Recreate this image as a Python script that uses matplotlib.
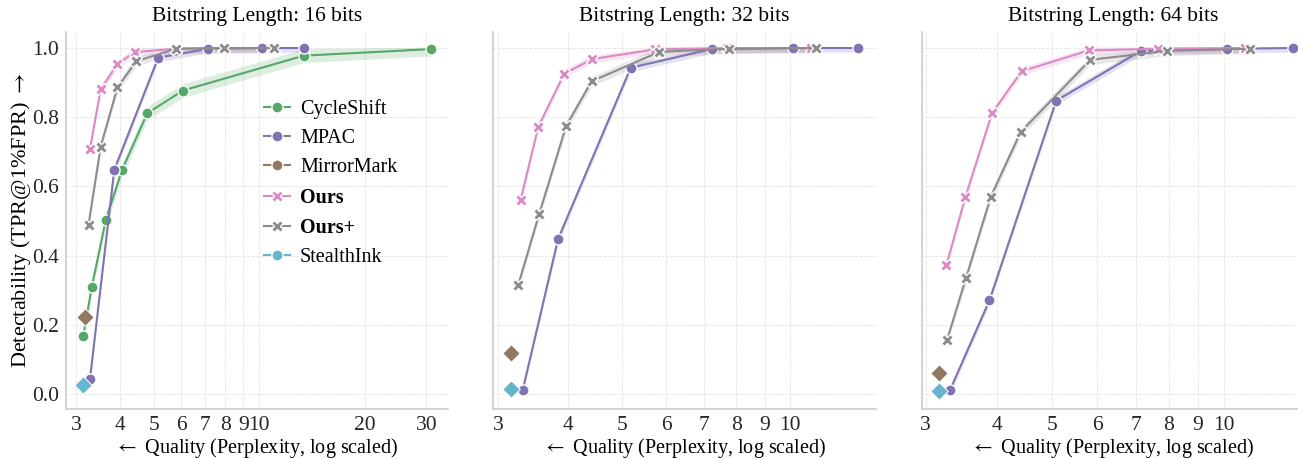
import numpy as np
import matplotlib
matplotlib.use("Agg")
import matplotlib.pyplot as plt
from matplotlib.lines import Line2D
from matplotlib.ticker import FixedLocator, NullFormatter, FixedFormatter

plt.rcParams['font.family'] = ['Liberation Serif', 'DejaVu Serif']
plt.rcParams['mathtext.fontset'] = 'stix'

titles = ['Bitstring Length: 16 bits', 'Bitstring Length: 32 bits', 'Bitstring Length: 64 bits']

# (perplexity, TPR) per panel
cycleshift_x = [3.15, 3.33, 3.65, 4.06, 4.79, 6.05, 13.4, 31.0]
cycleshift_y = [0.169, 0.31, 0.503, 0.647, 0.811, 0.877, 0.978, 0.997]

mpac_x = [
    [3.29, 3.86, 5.15, 7.16, 10.2, 13.4],
    [3.32, 3.84, 5.18, 7.23, 10.1, 13.2],
    [3.31, 3.88, 5.08, 7.15, 10.1, 13.2],
]
mpac_y = [
    [0.043, 0.648, 0.972, 0.998, 1.0, 1.0],
    [0.012, 0.448, 0.943, 0.997, 1.0, 1.0],
    [0.012, 0.271, 0.848, 0.992, 0.998, 1.0],
]

ours_x = [
    [3.29, 3.53, 3.94, 4.41, 5.78, 7.9, 10.9],
    [3.29, 3.54, 3.94, 4.42, 5.72, 7.7, 10.9],
    [3.26, 3.52, 3.92, 4.42, 5.79, 7.66, 10.9],
]
ours_y = [
    [0.708, 0.881, 0.954, 0.988, 0.998, 1.0, 1.0],
    [0.56, 0.773, 0.926, 0.968, 0.996, 1.0, 1.0],
    [0.372, 0.569, 0.812, 0.933, 0.993, 0.998, 1.0],
]

oursplus_x = [
    [3.26, 3.53, 3.94, 4.46, 5.79, 7.95, 11.0],
    [3.26, 3.55, 3.97, 4.41, 5.83, 7.78, 11.1],
    [3.27, 3.53, 3.90, 4.40, 5.83, 7.94, 11.1],
]
oursplus_y = [
    [0.49, 0.715, 0.886, 0.962, 0.998, 1.0, 1.0],
    [0.316, 0.519, 0.775, 0.904, 0.989, 0.998, 1.0],
    [0.157, 0.336, 0.57, 0.757, 0.966, 0.992, 0.998],
]

mirrormark_x = [3.18, 3.16, 3.17]
mirrormark_y = [0.223, 0.119, 0.06]
stealthink_x = [3.15, 3.16, 3.16]
stealthink_y = [0.026, 0.015, 0.009]

xlims = [(2.81, 34.6), (2.94, 14.2), (2.95, 13.8)]
xticks = [[3, 4, 5, 6, 7, 8, 9, 10, 20, 30], [3, 4, 5, 6, 7, 8, 9, 10], [3, 4, 5, 6, 7, 8, 9, 10]]

c_green = '#55A868'
c_purple = '#8172B3'
c_brown = '#937860'
c_pink = '#DA8BC3'
c_gray = '#8C8C8C'
c_cyan = '#64B5CD'

fig = plt.figure(figsize=(12.98, 4.59), dpi=100)
lefts = [0.0508, 0.380, 0.710]
axes = []
for i in range(3):
    ax = fig.add_axes([lefts[i], 0.109, 0.2945, 0.821],
                      sharey=axes[0] if axes else None)
    axes.append(ax)


def draw_line(ax, x, y, color, marker, ms, band=0.012, mew=1.0):
    x = np.array(x)
    y = np.array(y)
    ax.fill_between(x, y - band, np.minimum(y + band, 1.003), color=color, alpha=0.2, lw=0)
    ax.plot(x, y, color=color, marker=marker, ms=ms, lw=1.5,
            mec='white', mew=mew, zorder=3)


for i, ax in enumerate(axes):
    ax.set_xscale('log')
    if i == 0:
        draw_line(ax, cycleshift_x, cycleshift_y, c_green, 'o', 8, band=0.02)
    draw_line(ax, mpac_x[i], mpac_y[i], c_purple, 'o', 8, band=0.012)
    draw_line(ax, ours_x[i], ours_y[i], c_pink, 'X', 8, band=0.012)
    draw_line(ax, oursplus_x[i], oursplus_y[i], c_gray, 'X', 8, band=0.014)
    ax.scatter([mirrormark_x[i]], [mirrormark_y[i]], marker='D', s=80,
               color=c_brown, edgecolor='white', lw=0.8, zorder=4)
    ax.scatter([stealthink_x[i]], [stealthink_y[i]], marker='D', s=80,
               color=c_cyan, edgecolor='white', lw=0.8, zorder=4)

    ax.set_xlim(*xlims[i])
    ax.xaxis.set_major_locator(FixedLocator(xticks[i]))
    ax.xaxis.set_major_formatter(FixedFormatter([str(t) for t in xticks[i]]))
    ax.xaxis.set_minor_formatter(NullFormatter())
    ax.xaxis.set_minor_locator(FixedLocator([]))
    ax.set_ylim(-0.043, 1.046)
    ax.set_yticks([0.0, 0.2, 0.4, 0.6, 0.8, 1.0])
    ax.grid(True, which='major', ls='--', lw=0.6, color='#e3e3e3')
    ax.set_axisbelow(True)
    for s in ['top', 'right']:
        ax.spines[s].set_visible(False)
    for s in ['left', 'bottom']:
        ax.spines[s].set_color('#cccccc')
        ax.spines[s].set_linewidth(1.2)
    ax.tick_params(length=0, labelsize=15.5, pad=5, colors='#262626')
    ax.set_title(titles[i], fontsize=15.5, pad=8)
    ax.set_xlabel(r'$\leftarrow$ Quality (Perplexity, log scaled)', fontsize=14.5, labelpad=1)
    if i > 0:
        plt.setp(ax.get_yticklabels(), visible=False)

axes[0].set_ylabel(r'Detectability (TPR@1%FPR) $\rightarrow$', fontsize=16, labelpad=-1)
axes[0].yaxis.set_major_formatter(FixedFormatter(['0.0', '0.2', '0.4', '0.6', '0.8', '1.0']))

handles = [
    Line2D([], [], color=c_green, marker='o', ms=8, mec='white', lw=1.5),
    Line2D([], [], color=c_purple, marker='o', ms=8, mec='white', lw=1.5),
    Line2D([], [], color=c_brown, marker='o', ms=8, mec='white', lw=1.5),
    Line2D([], [], color=c_pink, marker='X', ms=8, mec='white', lw=1.5),
    Line2D([], [], color=c_gray, marker='X', ms=8, mec='white', lw=1.5),
    Line2D([], [], color=c_cyan, marker='o', ms=8, mec='white', lw=1.5),
]
labels = ['CycleShift', 'MPAC', 'MirrorMark', 'Ours', 'Ours+', 'StealthInk']
leg = axes[0].legend(handles, labels, loc='upper left', bbox_to_anchor=(0.47, 0.87),
                     frameon=False, fontsize=14.5, handlelength=1.3, labelspacing=0.5,
                     handletextpad=0.5)
for t in leg.get_texts():
    if t.get_text() in ('Ours', 'Ours+'):
        t.set_fontweight('bold')

fig.savefig('out.png', dpi=100)
